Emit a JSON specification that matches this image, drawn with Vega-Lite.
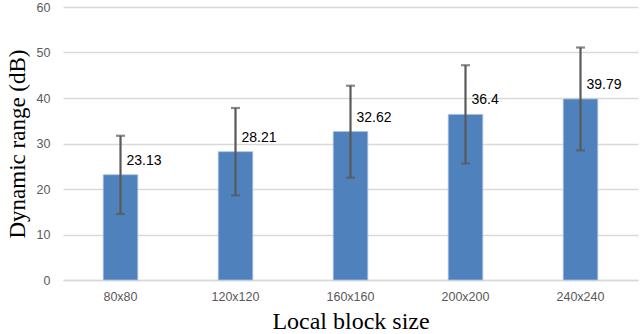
{
  "$schema": "https://vega.github.io/schema/vega-lite/v6.json",
  "width": 575,
  "height": 273,
  "autosize": {"type": "none"},
  "padding": {"left": 63, "top": 7, "right": 2, "bottom": 54},
  "background": "white",
  "config": {"view": {"stroke": null}},
  "data": {"values": [
    {"size": "80x80", "value": 23.13, "lo": 14.5, "hi": 31.7},
    {"size": "120x120", "value": 28.21, "lo": 18.6, "hi": 37.8},
    {"size": "160x160", "value": 32.62, "lo": 22.5, "hi": 42.7},
    {"size": "200x200", "value": 36.4, "lo": 25.6, "hi": 47.2},
    {"size": "240x240", "value": 39.79, "lo": 28.5, "hi": 51.1}
  ]},
  "encoding": {
    "x": {"field": "size", "type": "nominal", "sort": null,
      "scale": {"paddingInner": 0.7, "paddingOuter": 0.35},
      "axis": {"title": "Local block size", "labelAngle": 0, "labelFont": "Liberation Sans", "labelFontSize": 12.5, "labelColor": "#595959", "labelPadding": 10, "ticks": false, "domainColor": "#d9d9d9", "domainWidth": 1.5, "titleFont": "Liberation Serif", "titleFontSize": 24, "titleFontWeight": "normal", "titleColor": "#000000", "titlePadding": 7}}
  },
  "layer": [
    {"mark": {"type": "bar", "color": "#4F81BD", "stroke": "#a9c0de", "strokeWidth": 0.8},
      "encoding": {"y": {"field": "value", "type": "quantitative",
        "scale": {"domain": [0, 60]},
        "axis": {"title": "Dynamic range (dB)", "values": [0, 10, 20, 30, 40, 50, 60], "domain": false, "ticks": false, "grid": true, "gridColor": "#d9d9d9", "gridWidth": 1.5, "labelFont": "Liberation Sans", "labelFontSize": 12.5, "labelColor": "#595959", "labelPadding": 13, "titleFont": "Liberation Serif", "titleFontSize": 23, "titleFontWeight": "normal", "titleColor": "#000000", "titlePadding": 7}}}},
    {"mark": {"type": "rule", "color": "#595959", "strokeWidth": 2.2},
      "encoding": {"y": {"field": "lo", "type": "quantitative"}, "y2": {"field": "hi"}}},
    {"mark": {"type": "tick", "color": "#595959", "thickness": 2.2, "size": 9, "orient": "horizontal"},
      "encoding": {"y": {"field": "lo", "type": "quantitative"}}},
    {"mark": {"type": "tick", "color": "#595959", "thickness": 2.2, "size": 9, "orient": "horizontal"},
      "encoding": {"y": {"field": "hi", "type": "quantitative"}}},
    {"mark": {"type": "text", "align": "left", "baseline": "middle", "dx": 6, "dy": -14, "font": "Liberation Sans", "fontSize": 14, "color": "#000000"},
      "encoding": {"y": {"field": "value", "type": "quantitative"}, "text": {"field": "value", "type": "quantitative"}}}
  ]
}
